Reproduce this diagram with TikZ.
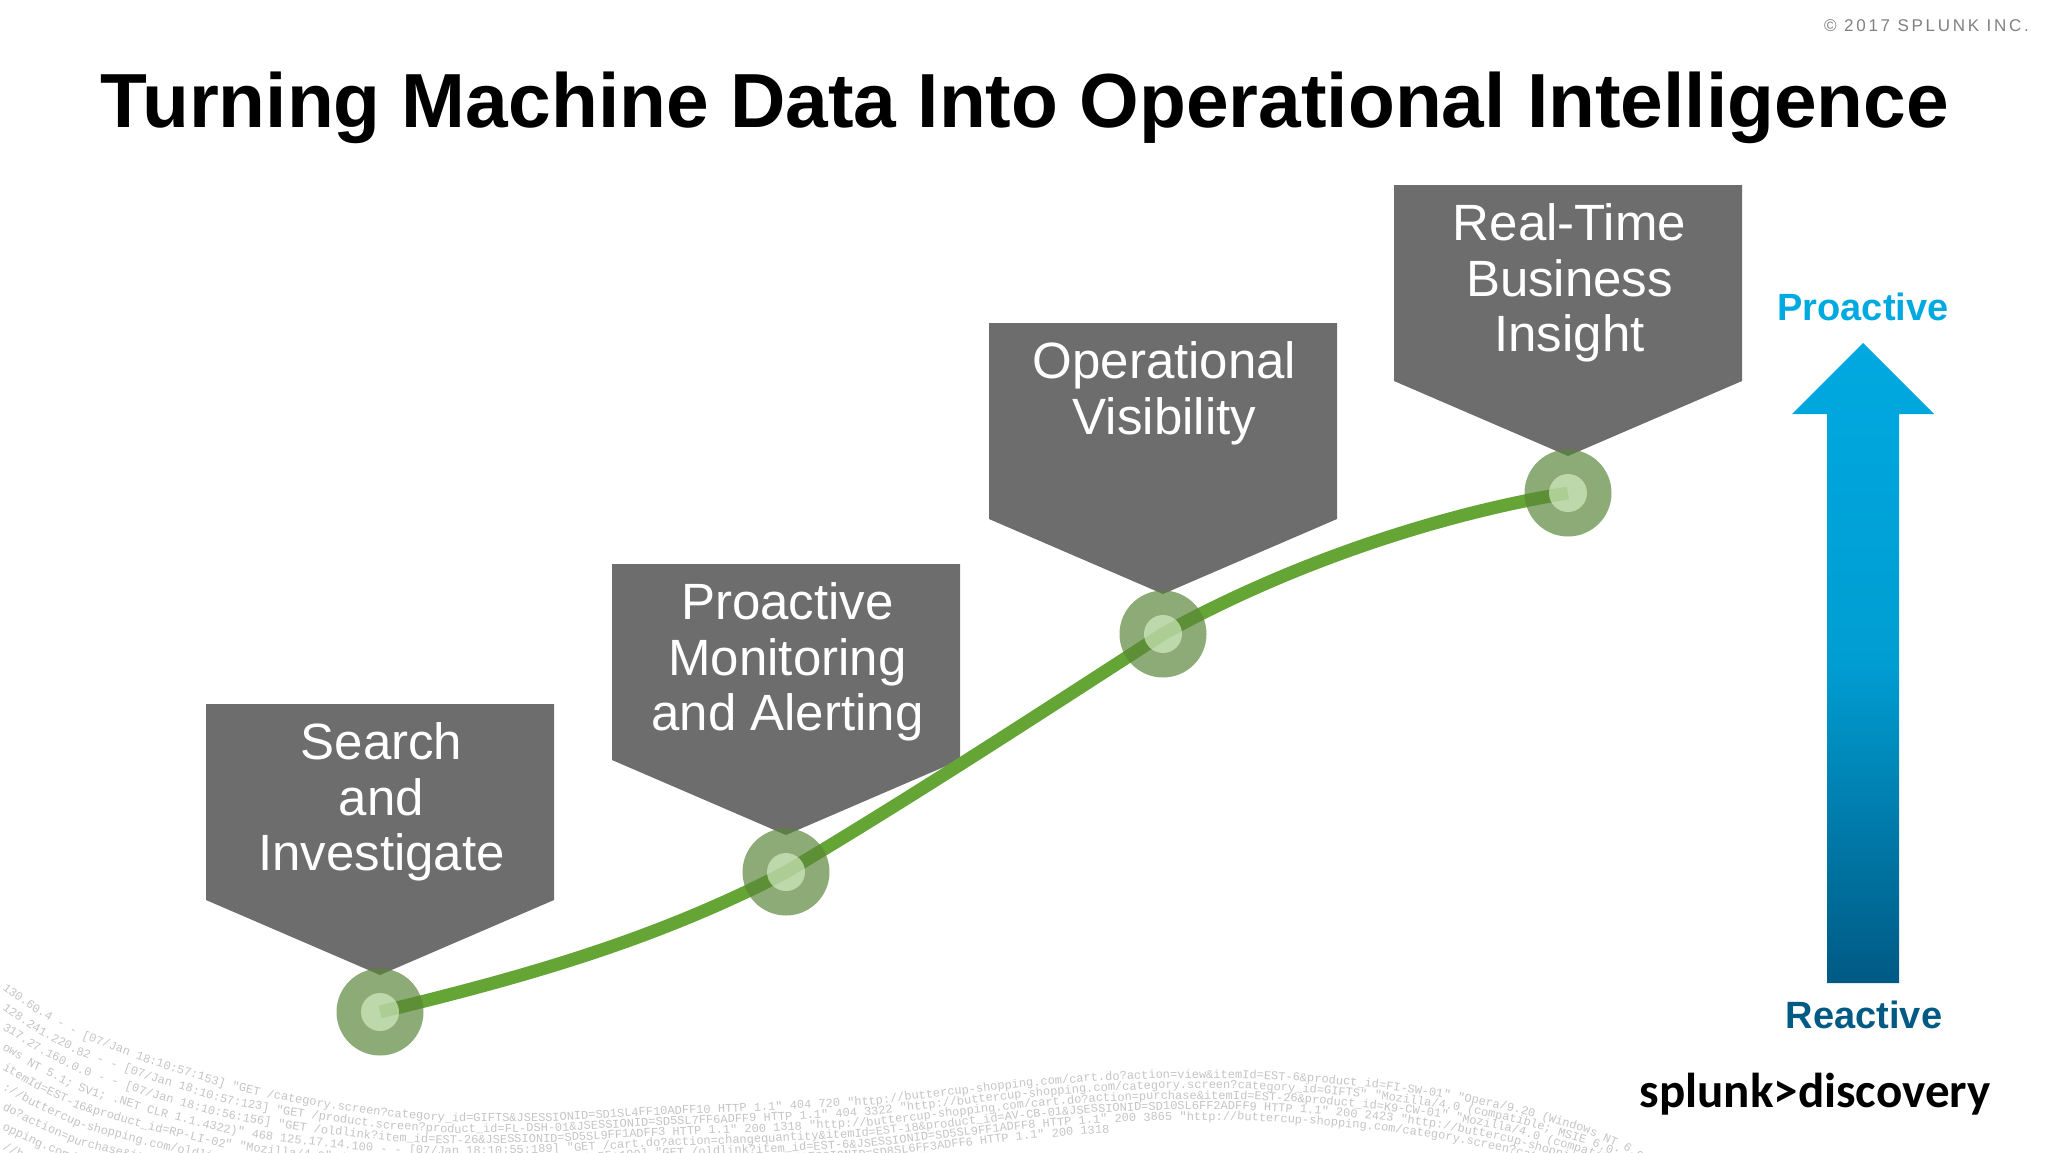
\documentclass[tikz,border=0pt]{standalone}
\usepackage{fontspec}
\setmainfont{Liberation Sans}
\newfontfamily\logfont{Liberation Mono}
\newfontfamily\noticefont[LetterSpace=16]{Liberation Sans}
\newfontfamily\brandfont{Carlito}
\usetikzlibrary{decorations.text}
\definecolor{calloutgray}{HTML}{6D6D6D}
\definecolor{trendgreen}{HTML}{65A535}
\definecolor{dotouter}{HTML}{598537}
\definecolor{dotinner}{HTML}{D8F0C8}
\definecolor{proactiveblue}{HTML}{00A9E0}
\definecolor{reactiveblue}{HTML}{005A84}
\definecolor{logtext}{HTML}{C4C4C4}
\tikzset{
    calloutbox/.style={fill=calloutgray},
    calloutlabel/.style={text=white, align=center, inner sep=0pt, font=\fontsize{51}{55.6}\selectfont},
    trendline/.style={draw=trendgreen, line width=13pt},
    outerdot/.style={circle, fill=dotouter, fill opacity=0.685, minimum size=87pt, inner sep=0pt},
    innerdot/.style={circle, fill=dotinner, fill opacity=0.65, minimum size=38pt, inner sep=0pt},
    scalelabel/.style={font=\fontsize{38}{38}\selectfont\bfseries, inner sep=0pt}
}
% one line of the log text, pushed down the sheet by #1
\newcommand{\logline}[2]{%
    \path[decorate, decoration={text along path, text={|\logfont\fontsize{12}{12}\selectfont\color{logtext}|#2}}]
        (2,989+#1*20) -- (34,1012+#1*19) -- (78,1037+#1*18) -- (150,1064+#1*16.5) -- (225,1088+#1*15) -- (275,1099+#1*14) -- (327,1108+#1*13)
        -- (390,1117+#1*12) -- (457,1122+#1*11) -- (555,1121+#1*10.5) -- (654,1115+#1*10.5) -- (760,1111+#1*10.5) -- (869,1105+#1*10.5) -- (945,1096+#1*10.5)
        -- (1024,1087+#1*10.5) -- (1095,1081+#1*10.5) -- (1168,1078+#1*10.5) -- (1240,1078+#1*10.5) -- (1311,1082+#1*10.5) -- (1376,1088+#1*10.5) -- (1442,1097+#1*10.5)
        -- (1515,1112+#1*10.5) -- (1586,1133+#1*10.5) -- (1625,1150+#1*10.5) -- (1660,1175+#1*10.5);}
\begin{document}
\begin{tikzpicture}[x=1pt, y=-1pt]
    \useasboundingbox (0,0) rectangle (2048,1152);

    % Log text
    \logline{0}{130.60.4 - - [07/Jan 18:10:57:153] "GET /category.screen?category{\_}id=GIFTS{\&}JSESSIONID=SD1SL4FF10ADFF10 HTTP 1.1" 404 720 "http://buttercup-shopping.com/cart.do?action=view{\&}itemId=EST-6{\&}product{\_}id=FI-SW-01" "Opera/9.20 (Windows NT 6.0; Ru)"}
    \logline{1}{128.241.220.82 - - [07/Jan 18:10:57:123] "GET /product.screen?product{\_}id=FL-DSH-01{\&}JSESSIONID=SD5SL7FF6ADFF9 HTTP 1.1" 404 3322 "http://buttercup-shopping.com/category.screen?category{\_}id=GIFTS" "Mozilla/4.0 (compatible; MSIE 6.0; Windows NT 5.1)"}
    \logline{2}{317.27.160.0.0 - - [07/Jan 18:10:56:156] "GET /oldlink?item{\_}id=EST-26{\&}JSESSIONID=SD5SL9FF1ADFF3 HTTP 1.1" 200 1318 "http://buttercup-shopping.com/cart.do?action=purchase{\&}itemId=EST-26{\&}product{\_}id=K9-CW-01" "Mozilla/4.0 (compatible; MSIE 7.0)"}
    \logline{3}{ows NT 5.1; SV1; .NET CLR 1.1.4322)" 468 125.17.14.100 - - [07/Jan 18:10:55:189] "GET /cart.do?action=changequantity{\&}itemId=EST-18{\&}product{\_}id=AV-CB-01{\&}JSESSIONID=SD10SL6FF2ADFF9 HTTP 1.1" 200 2423 "http://buttercup-shopping.com/"}
    \logline{4}{itemId=EST-16{\&}product{\_}id=RP-LI-02" "Mozilla/4.0" 468 125.17.14.100 - - [07/Jan 18:10:55:100] "GET /oldlink?item{\_}id=EST-6{\&}JSESSIONID=SD5SL9FF1ADFF8 HTTP 1.1" 200 3865 "http://buttercup-shopping.com/category.screen?category{\_}id=FLOWERS"}
    \logline{5}{://buttercup-shopping.com/oldlink?item{\_}id=EST-16{\&}product{\_}id=RP-LI-02 "GET /category.screen?category{\_}id=SURPRISE{\&}JSESSIONID=SD8SL6FF3ADFF6 HTTP 1.1" 200 1318}
    \logline{6}{do?action=purchase{\&}itemId=EST-16{\&}product{\_}id=RP-LI-02 "GET /cart.do?action=remove{\&}itemId=EST-15{\&}JSESSIONID=SD1SL9FF1ADFF3 HTTP 1.1"}
    \logline{7}{opping.com/cart.do?action=purchase{\&}itemId=EST-16}
    \logline{8}{//buttercup-shopping.com/cart.do}

    % Title
    \node (title) [inner sep=0pt, anchor=base] at (1025,127) {\fontsize{76.7}{76.7}\selectfont\bfseries Turning Machine Data Into Operational Intelligence};
    \node (notice) [inner sep=0pt, text=gray, anchor=base east] at (2029,31) {\fontsize{17}{17}\noticefont © 2017 SPLUNK INC.};

    % Callouts
    \foreach \n/\x/\y/\by/\label in {a/380/1012/1012/{Search\\and\\Investigate}, b/786/872/872/{Proactive\\Monitoring\\and Alerting}, c/1163/634/631/{Operational\\Visibility}, d/1568/493/493/{Real-Time\\Business\\Insight}} {
        \coordinate (stage\n) at (\x,\y);
        \path[calloutbox, shift={(\x,\by)}] (-174,-308) -- (174,-308) -- (174,-112) -- (0,-37) -- (-174,-112) -- cycle;
        \node (label\n) [calloutlabel, anchor=north] at (\x+1.5,\by-289.5) {\label};
    }

    % Trend line
    \draw[trendline] (stagea) .. controls (516,979) and (652,942) .. (stageb)
        .. controls (912,797) and (1039,714) .. (stagec)
        .. controls (1289,564) and (1439,514) .. (staged);

    % Stage dots
    \foreach \n in {a,b,c,d} {
        \node (outer\n) [outerdot] at (stage\n) {};
        \node (inner\n) [innerdot] at (stage\n) {};
    }

    % Scale arrow
    \path[top color=proactiveblue, bottom color=reactiveblue, middle color=proactiveblue!85!reactiveblue]
        (1863,343) -- (1934,414) -- (1899,414) -- (1899,983) -- (1827,983) -- (1827,414) -- (1792,414) -- cycle;
    \node (proactive) [scalelabel, text=proactiveblue, anchor=base] at (1863,320) {Proactive};
    \node (reactive) [scalelabel, text=reactiveblue, anchor=base] at (1864,1028) {Reactive};

    % Logo
    \node (brand) [inner sep=0pt, anchor=base] at (1815,1107) {\fontsize{49}{49}\brandfont\bfseries splunk>discovery};
\end{tikzpicture}
\end{document}
